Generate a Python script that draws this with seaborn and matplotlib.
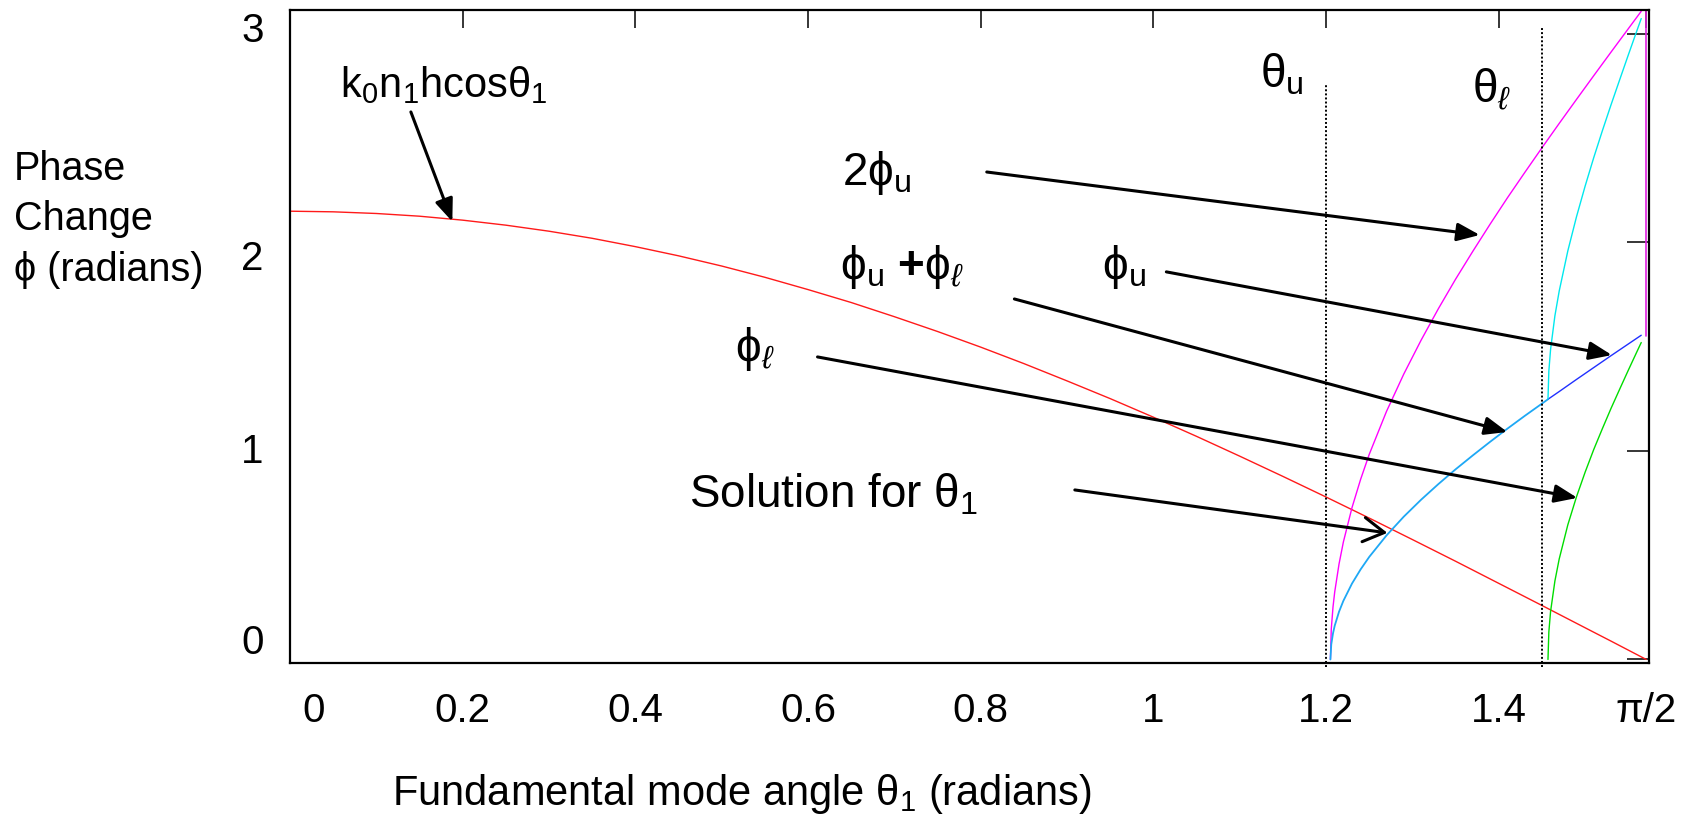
import numpy as np
import matplotlib
matplotlib.use("Agg")
import matplotlib.pyplot as plt
import matplotlib.transforms as mtransforms
import seaborn as sns

# ---------------- data ----------------
theta_red = [0.0, 0.05, 0.1, 0.15, 0.2, 0.25, 0.3, 0.35, 0.4, 0.45, 0.5, 0.55,
             0.6, 0.65, 0.7, 0.75, 0.8, 0.85, 0.9, 0.95, 1.0, 1.05, 1.1, 1.15,
             1.2, 1.25, 1.3, 1.35, 1.4, 1.45, 1.5, 1.53, 1.5708]
phase_red = [2.150, 2.147, 2.139, 2.126, 2.107, 2.083, 2.054, 2.020, 1.980,
             1.936, 1.887, 1.833, 1.774, 1.712, 1.644, 1.573, 1.498, 1.419,
             1.336, 1.251, 1.162, 1.070, 0.975, 0.878, 0.779, 0.678, 0.575,
             0.471, 0.365, 0.259, 0.152, 0.088, 0.000]

theta_u = [1.205, 1.206, 1.208, 1.21, 1.215, 1.22, 1.23, 1.24, 1.25, 1.27,
           1.29, 1.31, 1.33, 1.35, 1.37, 1.39, 1.41, 1.43, 1.45, 1.457,
           1.47, 1.49, 1.51, 1.53, 1.55, 1.565]
phi_u = [0.000, 0.072, 0.125, 0.162, 0.229, 0.281, 0.364, 0.432, 0.492, 0.595,
         0.685, 0.766, 0.841, 0.912, 0.979, 1.044, 1.107, 1.168, 1.227, 1.248,
         1.285, 1.343, 1.400, 1.457, 1.513, 1.555]
two_phi_u = [0.000, 0.145, 0.251, 0.324, 0.458, 0.563, 0.728, 0.864, 0.984, 1.190,
             1.369, 1.531, 1.682, 1.824, 1.958, 2.088, 2.214, 2.335, 2.454, 2.495,
             2.571, 2.686, 2.800, 2.913, 3.025, 3.109]

theta_l = [1.457, 1.458, 1.46, 1.465, 1.47, 1.48, 1.49, 1.50, 1.51, 1.52,
           1.53, 1.54, 1.55, 1.56, 1.565]
phi_l = [0.000, 0.132, 0.230, 0.376, 0.482, 0.646, 0.780, 0.898, 1.007, 1.107,
         1.204, 1.296, 1.387, 1.476, 1.520]
phi_sum = [1.248, 1.383, 1.487, 1.648, 1.767, 1.960, 2.123, 2.270, 2.407, 2.536,
           2.660, 2.780, 2.899, 3.016, 3.074]

edge_theta = [1.5703, 1.5703]
edge_phase = [1.55, 3.11]

crit_angles = [1.20, 1.45]
crit_tops = [2.755, 3.038]

x_ticks = [0.0, 0.2, 0.4, 0.6, 0.8, 1.0, 1.2, 1.4, np.pi / 2]
x_tick_labels = ["0", "0.2", "0.4", "0.6", "0.8", "1", "1.2", "1.4", "π/2"]
y_ticks = [0, 1, 2, 3]
y_tick_labels = ["0", "1", "2", "3"]

# ---------------- style ----------------
sns.set_style("white")
plt.rcParams["font.family"] = ["Liberation Sans", "DejaVu Sans"]
plt.rcParams["mathtext.fontset"] = "custom"
plt.rcParams["mathtext.rm"] = "Liberation Sans"
plt.rcParams["mathtext.it"] = "Liberation Sans:italic"
plt.rcParams["mathtext.bf"] = "Liberation Sans:bold"
plt.rcParams["text.color"] = "black"
plt.rcParams["axes.labelcolor"] = "black"
plt.rcParams["xtick.color"] = "black"
plt.rcParams["ytick.color"] = "black"

W, H = 1685, 815
fig = plt.figure(figsize=(W / 100, H / 100), dpi=100)
ax = fig.add_axes([290 / W, 1 - 663 / H, (1649 - 290) / W, (663 - 10) / H])

lw = 1.0
split = theta_u.index(1.457)
sns.lineplot(x=theta_red, y=phase_red, color="#ff1a1a", linewidth=lw, ax=ax)
sns.lineplot(x=theta_u, y=two_phi_u, color="#ff00ff", linewidth=lw, ax=ax)
sns.lineplot(x=theta_u[:split + 1], y=phi_u[:split + 1], color="#1ea8f5", linewidth=1.3, ax=ax)
sns.lineplot(x=theta_u[split:], y=phi_u[split:], color="#2030ff", linewidth=lw, ax=ax)
sns.lineplot(x=theta_l, y=phi_sum, color="#00e8ee", linewidth=lw, ax=ax)
sns.lineplot(x=theta_l, y=phi_l, color="#00dd00", linewidth=lw, ax=ax)
ax.plot(edge_theta, edge_phase, color="#e020e0", linewidth=1.2)

for xc, yt in zip(crit_angles, crit_tops):
    ax.plot([xc, xc], [-0.035, yt], color="black", linewidth=1.4,
            linestyle=(0, (1, 1.1)), clip_on=False)

ax.set_xlim(0, 1.574)
ax.set_ylim(-0.017, 3.115)

for s in ax.spines.values():
    s.set_color("black")
    s.set_linewidth(1.6)

ax.set_xticks(x_ticks)
ax.set_xticklabels(x_tick_labels)
ax.set_yticks(y_ticks)
ax.set_yticklabels(y_tick_labels)
ax.tick_params(direction="in", top=True, right=True, width=1.1, colors="black",
               labelcolor="black", labelsize=29)
ax.tick_params(axis="x", length=13, pad=21)
ax.tick_params(axis="y", length=15.5, pad=19)
ax.set_xlabel("")
ax.set_ylabel("")

# per-label nudges (pixels) to match reference placement
def nudge(label, dx, dy):
    off = mtransforms.ScaledTranslation(dx / 100, dy / 100, fig.dpi_scale_trans)
    label.set_transform(label.get_transform() + off)

xl = ax.get_xticklabels()
nudge(xl[0], 24, 0)
yl = ax.get_yticklabels()
for lab, d in zip(yl, [20, 3, -13, 7]):
    nudge(lab, 0, d)

# axis labels
fig.text(392 / W, 1 - 805 / H, r"Fundamental mode angle θ$_1$ (radians)",
         fontsize=30, ha="left", va="baseline", color="black")
for txt, base in [("Phase", 180), ("Change", 230), ("ϕ (radians)", 281)]:
    fig.text(14 / W, 1 - base / H, txt, fontsize=28.5, ha="left", va="baseline",
             color="black")

# annotation texts
tk = dict(va="baseline", color="black")
ax.text(0.058, 2.698, r"k$_0$n$_1$hcosθ$_1$", fontsize=30, **tk)
ax.text(1.123, 2.741, r"θ$_\mathrm{u}$", fontsize=33, **tk)
ax.text(1.369, 2.674, r"θ$_\ell$", fontsize=33, **tk)
ax.text(0.639, 2.276, r"2ϕ$_\mathrm{u}$", fontsize=33, **tk)
ax.text(0.637, 1.825, r"ϕ$_\mathrm{u}$ $\mathbf{+}$ϕ$_\ell$", fontsize=33, **tk)
ax.text(0.941, 1.825, r"ϕ$_\mathrm{u}$", fontsize=33, **tk)
ax.text(0.515, 1.432, r"ϕ$_\ell$", fontsize=33, **tk)
ax.text(0.462, 0.731, r"Solution for θ$_1$", fontsize=33, **tk)

# arrows
filled = dict(arrowstyle="-|>,head_length=0.55,head_width=0.22", color="black",
              lw=2.2, mutation_scale=25, shrinkA=0, shrinkB=0)
arrows = [((0.140, 2.626), (0.188, 2.100)),
          ((0.807, 2.338), (1.378, 2.036)),
          ((1.015, 1.859), (1.531, 1.460)),
          ((0.839, 1.729), (1.410, 1.091)),
          ((0.611, 1.451), (1.491, 0.775))]
for start, tip in arrows:
    ax.annotate("", xy=tip, xytext=start, arrowprops=filled, zorder=5)
ax.annotate("", xy=(1.271, 0.607), xytext=(0.909, 0.813),
            arrowprops=dict(arrowstyle="->,head_length=0.6,head_width=0.35",
                            color="black", lw=2.2, mutation_scale=25,
                            shrinkA=0, shrinkB=0), zorder=5)

fig.savefig("out.png", dpi=100, facecolor="white")
